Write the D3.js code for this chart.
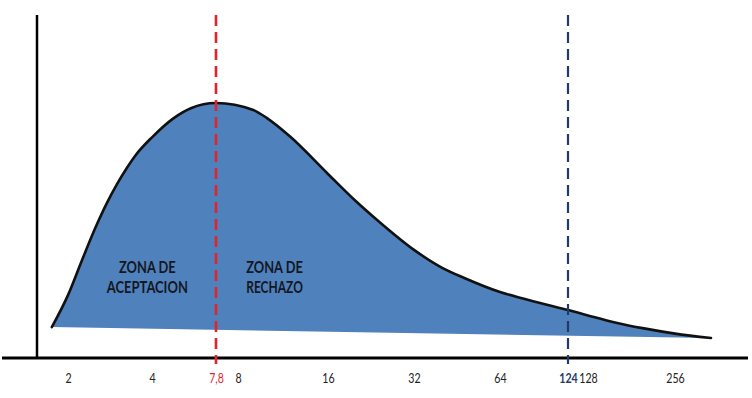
<!DOCTYPE html>
<html>
<head>
<meta charset="utf-8">
<script src="https://cdn.jsdelivr.net/npm/d3@7"></script>
<style>
  html, body { margin: 0; padding: 0; background: #fff; }
  svg { display: block; }
</style>
</head>
<body>
<svg id="chart" width="752" height="398"></svg>
<script>
// ---- data ----
const tickValues = [2, 4, 8, 16, 32, 64, 128, 256];
const criticalValues = [7.8, 124];
const criticalLabels = ["7,8", "124"];
// density curve (x value, relative density)
const curveX = [1.75, 2, 2.25, 2.5, 2.75, 3, 3.25, 3.5, 4, 5, 6, 7.8, 9, 10, 12, 16, 20, 24, 32, 40, 48, 64, 80, 100, 124, 128, 160, 200, 256, 341];
const curveY = [0.115, 0.238, 0.375, 0.494, 0.590, 0.666, 0.727, 0.777, 0.845, 0.918, 0.957, 0.977, 0.950, 0.919, 0.846, 0.704, 0.600, 0.523, 0.412, 0.344, 0.304, 0.250, 0.225, 0.202, 0.181, 0.160, 0.132, 0.110, 0.090, 0.073];
const zoneLabels = [["ZONA DE", "ACEPTACION"], ["ZONA DE", "RECHAZO"]];
const zoneAt = [3.85, 10.6];

// ---- layout ----
const svg = d3.select("#chart");
const axisY = 358, axisLeft = 37, topY = 15;
const knots = [...tickValues, ...criticalValues].sort((a, b) => a - b);
const knotPx = [68, 152, 216, 238, 328, 414, 500, 568, 588, 675];
const x = d3.scaleLog().base(2).domain(knots).range(knotPx);
const y = d3.scaleLinear().domain([0, 1]).range([357, 97]);

const pts = curveX.map((v, i) => ({ v, d: curveY[i] }));
const line = d3.line().x(d => x(d.v)).y(d => y(d.d)).curve(d3.curveMonotoneX);

// filled area (curve closed by straight line back to start)
svg.append("path")
  .attr("d", line(pts) + "Z")
  .attr("fill", "#4f81bd")
  .attr("stroke", "none");

// curve outline
svg.append("path")
  .attr("d", line(pts))
  .attr("fill", "none")
  .attr("stroke", "#111")
  .attr("stroke-width", 2.6)
  .attr("stroke-linecap", "round");

// zone labels
zoneLabels.forEach((lines, i) => {
  const t = svg.append("text")
    .attr("font-family", "Lato, 'Open Sans', sans-serif")
    .attr("font-weight", "bold")
    .attr("font-size", 17)
    .attr("fill", "#14171f")
    .attr("text-anchor", "middle");
  lines.forEach((s, j) => {
    t.append("tspan")
      .attr("x", x(zoneAt[i]))
      .attr("y", 272.5 + j * 20)
      .attr("textLength", s.length * 8.1)
      .attr("lengthAdjust", "spacingAndGlyphs")
      .text(s);
  });
});

// axes lines
svg.append("line")
  .attr("x1", axisLeft).attr("x2", axisLeft)
  .attr("y1", topY).attr("y2", axisY)
  .attr("stroke", "#000").attr("stroke-width", 2.5);
svg.append("line")
  .attr("x1", 2).attr("x2", 748)
  .attr("y1", axisY).attr("y2", axisY)
  .attr("stroke", "#000").attr("stroke-width", 3);

// critical value dashed lines
const critColors = ["#e3232c", "#1f3b66"];
criticalValues.forEach((v, i) => {
  svg.append("line")
    .attr("x1", x(v)).attr("x2", x(v))
    .attr("y1", topY).attr("y2", 364)
    .attr("stroke", critColors[i])
    .attr("stroke-width", i === 0 ? 2.6 : 2.2)
    .attr("stroke-dasharray", "11,6");
});

// tick labels via axis
const allTicks = [...tickValues, ...criticalValues];
const labelOf = v => {
  const k = criticalValues.indexOf(v);
  return k >= 0 ? criticalLabels[k] : String(v);
};
const ax = svg.append("g")
  .attr("transform", `translate(0,${axisY})`)
  .call(d3.axisBottom(x).tickValues(allTicks).tickSize(0).tickPadding(16).tickFormat(labelOf));
ax.select(".domain").remove();
ax.selectAll("text")
  .attr("font-family", "Lato, 'Open Sans', sans-serif")
  .attr("font-size", 12.5)
  .attr("transform", "scale(0.85,1)")
  .attr("fill", d => {
    const k = criticalValues.indexOf(d);
    return k >= 0 ? critColors[k] : "#222";
  })
  .attr("font-weight", d => d === 124 ? "bold" : "normal");
</script>
</body>
</html>
